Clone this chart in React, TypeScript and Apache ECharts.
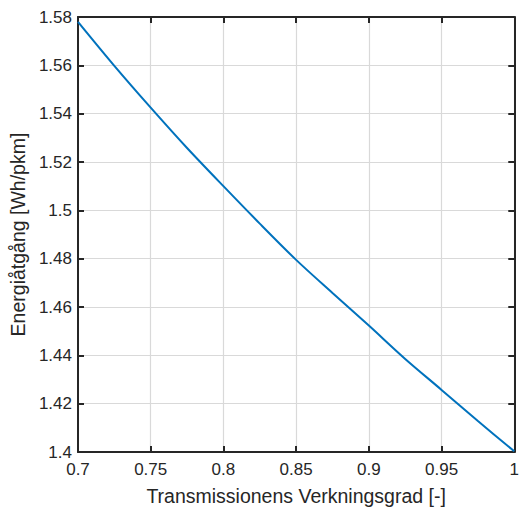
import React, { useEffect, useRef } from "react";
import * as echarts from "echarts";

const efficiency = [0.7, 0.725, 0.75, 0.775, 0.8, 0.825, 0.85, 0.875, 0.9, 0.925, 0.95, 0.975, 1.0];
const energy = [1.578, 1.5598, 1.5425, 1.5258, 1.51, 1.4945, 1.4795, 1.4658, 1.4523, 1.4385, 1.4257, 1.4128, 1.4003];
const xTitle = "Transmissionens Verkningsgrad [-]";
const yTitle = "Energiåtgång [Wh/pkm]";

const FONT = "'Liberation Sans', Arial, Helvetica, sans-serif";
const TXT = "#262626";

export default function App() {
  const ref = useRef<HTMLDivElement>(null);
  useEffect(() => {
    if (!ref.current) return;
    const chart = echarts.init(ref.current, null, { renderer: "svg" });
    const fmt = (v: number) => String(+v.toFixed(3));
    const axisLine = { show: true, onZero: false, lineStyle: { color: TXT, width: 2 } };
    const tick = { show: true, inside: true, length: 6, lineStyle: { color: TXT, width: 2 } };
    const grid = { show: true, lineStyle: { color: "#d9d9d9", width: 1.2 } };
    chart.setOption({
      animation: false,
      backgroundColor: "#ffffff",
      grid: { left: 77, top: 17, right: 4, bottom: 57, containLabel: false },
      xAxis: [
        {
          type: "value", position: "bottom", min: 0.7, max: 1, interval: 0.05,
          axisLine, axisTick: tick, splitLine: grid,
          axisLabel: { color: TXT, fontSize: 17, fontFamily: FONT, margin: 9, formatter: fmt, showMinLabel: true, showMaxLabel: true },
          name: xTitle, nameLocation: "middle", nameGap: 34,
          nameTextStyle: { color: TXT, fontSize: 19.5, fontFamily: FONT },
        },
        {
          type: "value", position: "top", min: 0.7, max: 1, interval: 0.05,
          axisLine, axisTick: tick, splitLine: { show: false }, axisLabel: { show: false },
        },
      ],
      yAxis: [
        {
          type: "value", position: "left", min: 1.4, max: 1.58, interval: 0.02,
          axisLine, axisTick: tick, splitLine: grid,
          axisLabel: { color: TXT, fontSize: 17, fontFamily: FONT, margin: 6, formatter: fmt, showMinLabel: true, showMaxLabel: true },
          name: yTitle, nameLocation: "middle", nameGap: 40,
          nameTextStyle: { color: TXT, fontSize: 19.5, fontFamily: FONT },
        },
        {
          type: "value", position: "right", min: 1.4, max: 1.58, interval: 0.02,
          axisLine, axisTick: tick, splitLine: { show: false }, axisLabel: { show: false },
        },
      ],
      series: [
        {
          type: "line",
          data: efficiency.map((x, i) => [x, energy[i]]),
          smooth: 0.3,
          showSymbol: false,
          lineStyle: { color: "#0072BD", width: 2 },
          xAxisIndex: 0,
          yAxisIndex: 0,
        },
      ],
    });
    return () => chart.dispose();
  }, []);
  return (
    <div
      ref={ref}
      style={{ position: "absolute", left: 0, top: 0, width: 522, height: 511, background: "#fff" }}
    />
  );
}
